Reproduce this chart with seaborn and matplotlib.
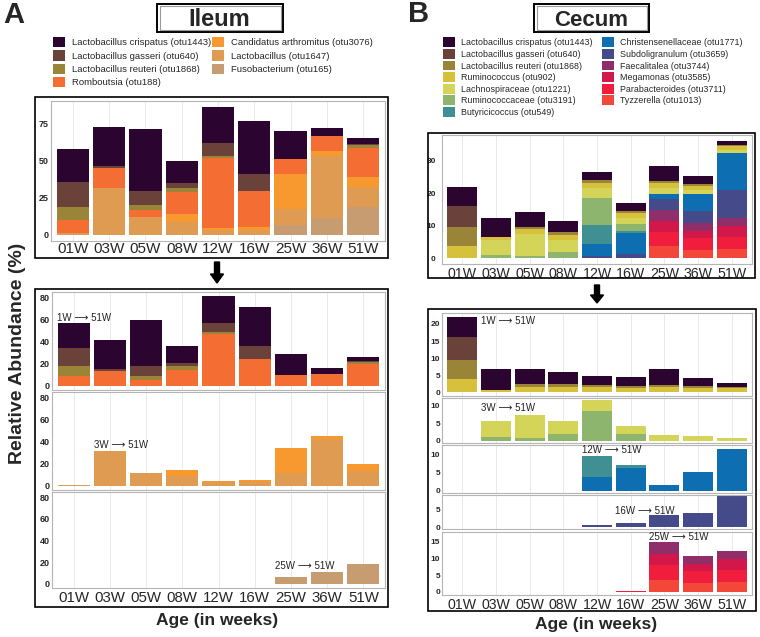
import matplotlib
matplotlib.use("Agg")
import matplotlib.pyplot as plt
from matplotlib.patches import Rectangle, FancyArrow, Patch
import seaborn as sns
import numpy as np

# ---- data (relative abundance, %) ----
ages = ["01W", "03W", "05W", "08W", "12W", "16W", "25W", "36W", "51W"]

# Ileum
il_crispatus = [22.5, 26, 42, 15, 24, 35.5, 18.5, 5, 3.5]
il_gasseri = [17, 1.5, 9, 3, 8.5, 11.5, 0, 0, 1.2]
il_reuteri = [8.5, 0, 3.5, 3, 1.5, 0, 0, 0, 1.5]
il_romboutsia = [9, 13.5, 5, 14.5, 47, 24.5, 10, 10.5, 20]
il_candidatus = [0, 0, 0, 5.5, 1.5, 2, 23.5, 3, 6.5]
il_lacto1647 = [0.8, 31, 11.5, 8.5, 3, 3, 11, 42, 13.5]
il_fuso = [0, 0, 0, 0, 0, 0, 6.5, 11, 18.5]

# Cecum
ce_crispatus = [5.9, 6.1, 4.4, 3.4, 2.7, 2.5, 4.7, 2.4, 1.2]
ce_gasseri = [6.7, 0, 0, 0, 0, 0, 0, 0, 0]
ce_reuteri = [5.7, 0, 0.8, 0.9, 0.8, 0.6, 0.6, 0.4, 0.3]
ce_ruminococcus = [3.8, 0.8, 1.5, 1.5, 1.4, 1.3, 1.6, 1.3, 1.3]
ce_lachno = [0, 4.6, 6.6, 3.7, 3.2, 2.1, 1.7, 1.3, 0.9]
ce_ruminococcaceae = [0, 1.0, 0.8, 1.9, 8.3, 2.0, 0, 0, 0]
ce_butyricicoccus = [0, 0, 0, 0, 5.8, 0.6, 0, 0, 0]
ce_christensen = [0, 0, 0, 0, 3.7, 6.4, 1.5, 5.1, 11.6]
ce_subdoligranulum = [0, 0, 0, 0, 0.8, 1.2, 3.4, 3.9, 8.6]
ce_faecalitalea = [0, 0, 0, 0, 0, 0, 3.5, 2.5, 2.3]
ce_megamonas = [0, 0, 0, 0, 0, 0, 3.4, 2.0, 3.5]
ce_parabacteroides = [0, 0, 0, 0, 0, 0.1, 4.4, 3.7, 3.6]
ce_tyzzerella = [0, 0, 0, 0, 0, 0.1, 3.7, 2.6, 2.9]

ileum = {
    "Lactobacillus crispatus (otu1443)": (il_crispatus, "#2b0530"),
    "Lactobacillus gasseri (otu640)": (il_gasseri, "#6b4239"),
    "Lactobacillus reuteri (otu1868)": (il_reuteri, "#9a8438"),
    "Romboutsia (otu188)": (il_romboutsia, "#f46d32"),
    "Candidatus arthromitus (otu3076)": (il_candidatus, "#f8992f"),
    "Lactobacillus (otu1647)": (il_lacto1647, "#e09b52"),
    "Fusobacterium (otu165)": (il_fuso, "#c79c70"),
}
cecum = {
    "Lactobacillus crispatus (otu1443)": (ce_crispatus, "#2b0530"),
    "Lactobacillus gasseri (otu640)": (ce_gasseri, "#6b4239"),
    "Lactobacillus reuteri (otu1868)": (ce_reuteri, "#9a8438"),
    "Ruminococcus (otu902)": (ce_ruminococcus, "#d6c03c"),
    "Lachnospiraceae (otu1221)": (ce_lachno, "#d4d558"),
    "Ruminococcaceae (otu3191)": (ce_ruminococcaceae, "#8db56d"),
    "Butyricicoccus (otu549)": (ce_butyricicoccus, "#3f8f93"),
    "Christensenellaceae (otu1771)": (ce_christensen, "#0d6fb1"),
    "Subdoligranulum (otu3659)": (ce_subdoligranulum, "#444a8a"),
    "Faecalitalea (otu3744)": (ce_faecalitalea, "#8f2e68"),
    "Megamonas (otu3585)": (ce_megamonas, "#d2184a"),
    "Parabacteroides (otu3711)": (ce_parabacteroides, "#f01e3c"),
    "Tyzzerella (otu1013)": (ce_tyzzerella, "#f3473a"),
}

sns.set_theme(style="white")
plt.rcParams['font.family'] = ['Liberation Sans', 'DejaVu Sans']

W, H = 760, 637
fig = plt.figure(figsize=(W / 100, H / 100), dpi=100)


def rect(l, t, r, b):
    return [l / W, 1 - b / H, (r - l) / W, (b - t) / H]


def frame(l, t, r, b, lw=1.2, color="black"):
    fig.add_artist(Rectangle((l / W, 1 - b / H), (r - l) / W, (b - t) / H,
                             transform=fig.transFigure, fill=False, ec=color, lw=lw))


def stacked(box, table, names, ylim, yticks, xlab_size=None, xpad=2, ypad=1.5, ysize=6.5):
    ax = fig.add_axes(rect(*box))
    # names in legend order: the first one ends on top of the stack
    for i, name in enumerate(names):
        cum = np.sum([table[n][0] for n in names[i:]], axis=0)
        sns.barplot(x=ages, y=cum, order=ages, color=table[name][1], width=0.89,
                    saturation=1, linewidth=0, errorbar=None, ax=ax)
    ax.set_xlim(-0.6, len(ages) - 0.4)
    ax.set_ylim(*ylim)
    ax.set_yticks(yticks)
    ax.set_xlabel("")
    ax.set_ylabel("")
    ax.xaxis.grid(True, color="#e6e6e6", lw=0.6)
    ax.set_axisbelow(True)
    for s in ax.spines.values():
        s.set_color("#b5b5b5")
        s.set_linewidth(0.8)
    ax.tick_params(length=0)
    ax.tick_params(axis="y", pad=ypad, labelsize=ysize)
    for t in ax.get_yticklabels():
        t.set_fontweight("bold")
    if xlab_size:
        ax.tick_params(axis="x", pad=xpad, labelsize=xlab_size)
    else:
        ax.set_xticklabels([])
    return ax


def note(ax, x, y, s):
    ax.text(x, y, s, fontsize=7, ha="left", va="center", color="#222222")


arrow_txt = "\u27f6"
il_names = list(ileum.keys())
ce_names = list(cecum.keys())

# ---------------- Ileum ----------------
fig.text(14 / W, 1 - 15 / H, "A", fontsize=21, fontweight="bold", ha="center", va="center")
frame(157, 4, 283, 32, lw=1.4)
frame(159.5, 6.5, 280.5, 29.5, lw=0.8, color="#9a9a9a")
fig.text(219 / W, 1 - 19 / H, "Ileum", fontsize=17, fontweight="bold", ha="center", va="center")

for names, x0 in [(il_names[:4], 53), (il_names[4:], 212)]:
    handles = [Patch(fc=ileum[n][1], ec="none", label=n) for n in names]
    fig.legend(handles=handles, loc="upper left", bbox_to_anchor=(x0 / W, 1 - 37 / H),
               frameon=False, fontsize=6.8, handlelength=1.3, handleheight=1.3,
               handletextpad=0.75, labelspacing=0.32, borderpad=0, borderaxespad=0)

frame(35, 97, 388, 258)
stacked((51, 101, 385, 241), ileum, il_names, (-4.3, 89.8), [0, 25, 50, 75], xlab_size=11, xpad=1)

fig.add_artist(FancyArrow(217 / W, 1 - 262 / H, 0, -21 / H, width=5 / W, head_width=13 / W,
                          head_length=9 / H, length_includes_head=True,
                          transform=fig.transFigure, color="black"))

frame(35, 289, 388, 607)
lower_ylim = (-4.05, 85.05)
ax = stacked((52, 292, 385, 390), ileum, il_names[:4], lower_ylim, [0, 20, 40, 60, 80])
note(ax, -0.45, 61.5, f"1W {arrow_txt} 51W")
ax = stacked((52, 392, 385, 490), ileum, il_names[4:6], lower_ylim, [0, 20, 40, 60, 80])
note(ax, 0.55, 37, f"3W {arrow_txt} 51W")
ax = stacked((52, 492, 385, 588), ileum, il_names[6:], lower_ylim, [0, 20, 40, 60, 80],
             xlab_size=10.8, xpad=2)
note(ax, 5.55, 16, f"25W {arrow_txt} 51W")

fig.text(217 / W, 1 - 620 / H, "Age (in weeks)", fontsize=12.5, fontweight="bold",
         ha="center", va="center")
fig.text(17.5 / W, 1 - 353 / H, "Relative Abundance (%)", fontsize=14, fontweight="bold",
         rotation=90, ha="center", va="center")

# ---------------- Cecum ----------------
fig.text(419 / W, 1 - 14 / H, "B", fontsize=21, fontweight="bold", ha="center", va="center")
frame(534, 4, 649, 32, lw=1.4)
frame(536.5, 6.5, 646.5, 29.5, lw=0.8, color="#9a9a9a")
fig.text(591.5 / W, 1 - 20 / H, "Cecum", fontsize=16, fontweight="bold", ha="center", va="center")

for names, x0 in [(ce_names[:7], 443), (ce_names[7:], 602)]:
    handles = [Patch(fc=cecum[n][1], ec="none", label=n) for n in names]
    fig.legend(handles=handles, loc="upper left", bbox_to_anchor=(x0 / W, 1 - 37.5 / H),
               frameon=False, fontsize=6.4, handlelength=1.3, handleheight=1.3,
               handletextpad=0.7, labelspacing=0.2, borderpad=0, borderaxespad=0)

frame(428, 133, 755, 278)
stacked((442, 135, 752, 264), cecum, ce_names, (-1.8, 38), [0, 10, 20, 30],
        xlab_size=10.2, xpad=2, ypad=4.5, ysize=6)

fig.add_artist(FancyArrow(597 / W, 1 - 285 / H, 0, -18 / H, width=5 / W, head_width=13 / W,
                          head_length=8 / H, length_includes_head=True,
                          transform=fig.transFigure, color="black"))

frame(428, 309, 756, 611)
ax = stacked((442, 313, 752, 396), cecum, ce_names[:4], (-1.1, 23.2), [0, 5, 10, 15, 20], ysize=6)
note(ax, 0.55, 20.8, f"1W {arrow_txt} 51W")
ax = stacked((442, 398, 752, 443), cecum, ce_names[4:6], (-0.58, 12.1), [0, 5, 10], ysize=6)
note(ax, 0.57, 9.4, f"3W {arrow_txt} 51W")
ax = stacked((442, 445, 752, 493), cecum, ce_names[6:8], (-0.58, 12.6), [0, 5, 10], ysize=6)
note(ax, 3.55, 11.2, f"12W {arrow_txt} 51W")
ax = stacked((442, 495, 752, 529), cecum, ce_names[8:9], (-0.43, 9.0), [0, 5], ysize=6)
note(ax, 4.52, 4.7, f"16W {arrow_txt} 51W")
ax = stacked((442, 532, 752, 595), cecum, ce_names[9:], (-0.9, 18), [0, 5, 10, 15],
             xlab_size=10.2, xpad=2, ysize=6)
note(ax, 5.53, 16.6, f"25W {arrow_txt} 51W")

fig.text(596 / W, 1 - 624 / H, "Age (in weeks)", fontsize=12.5, fontweight="bold",
         ha="center", va="center")

fig.savefig("out.png", dpi=100)
